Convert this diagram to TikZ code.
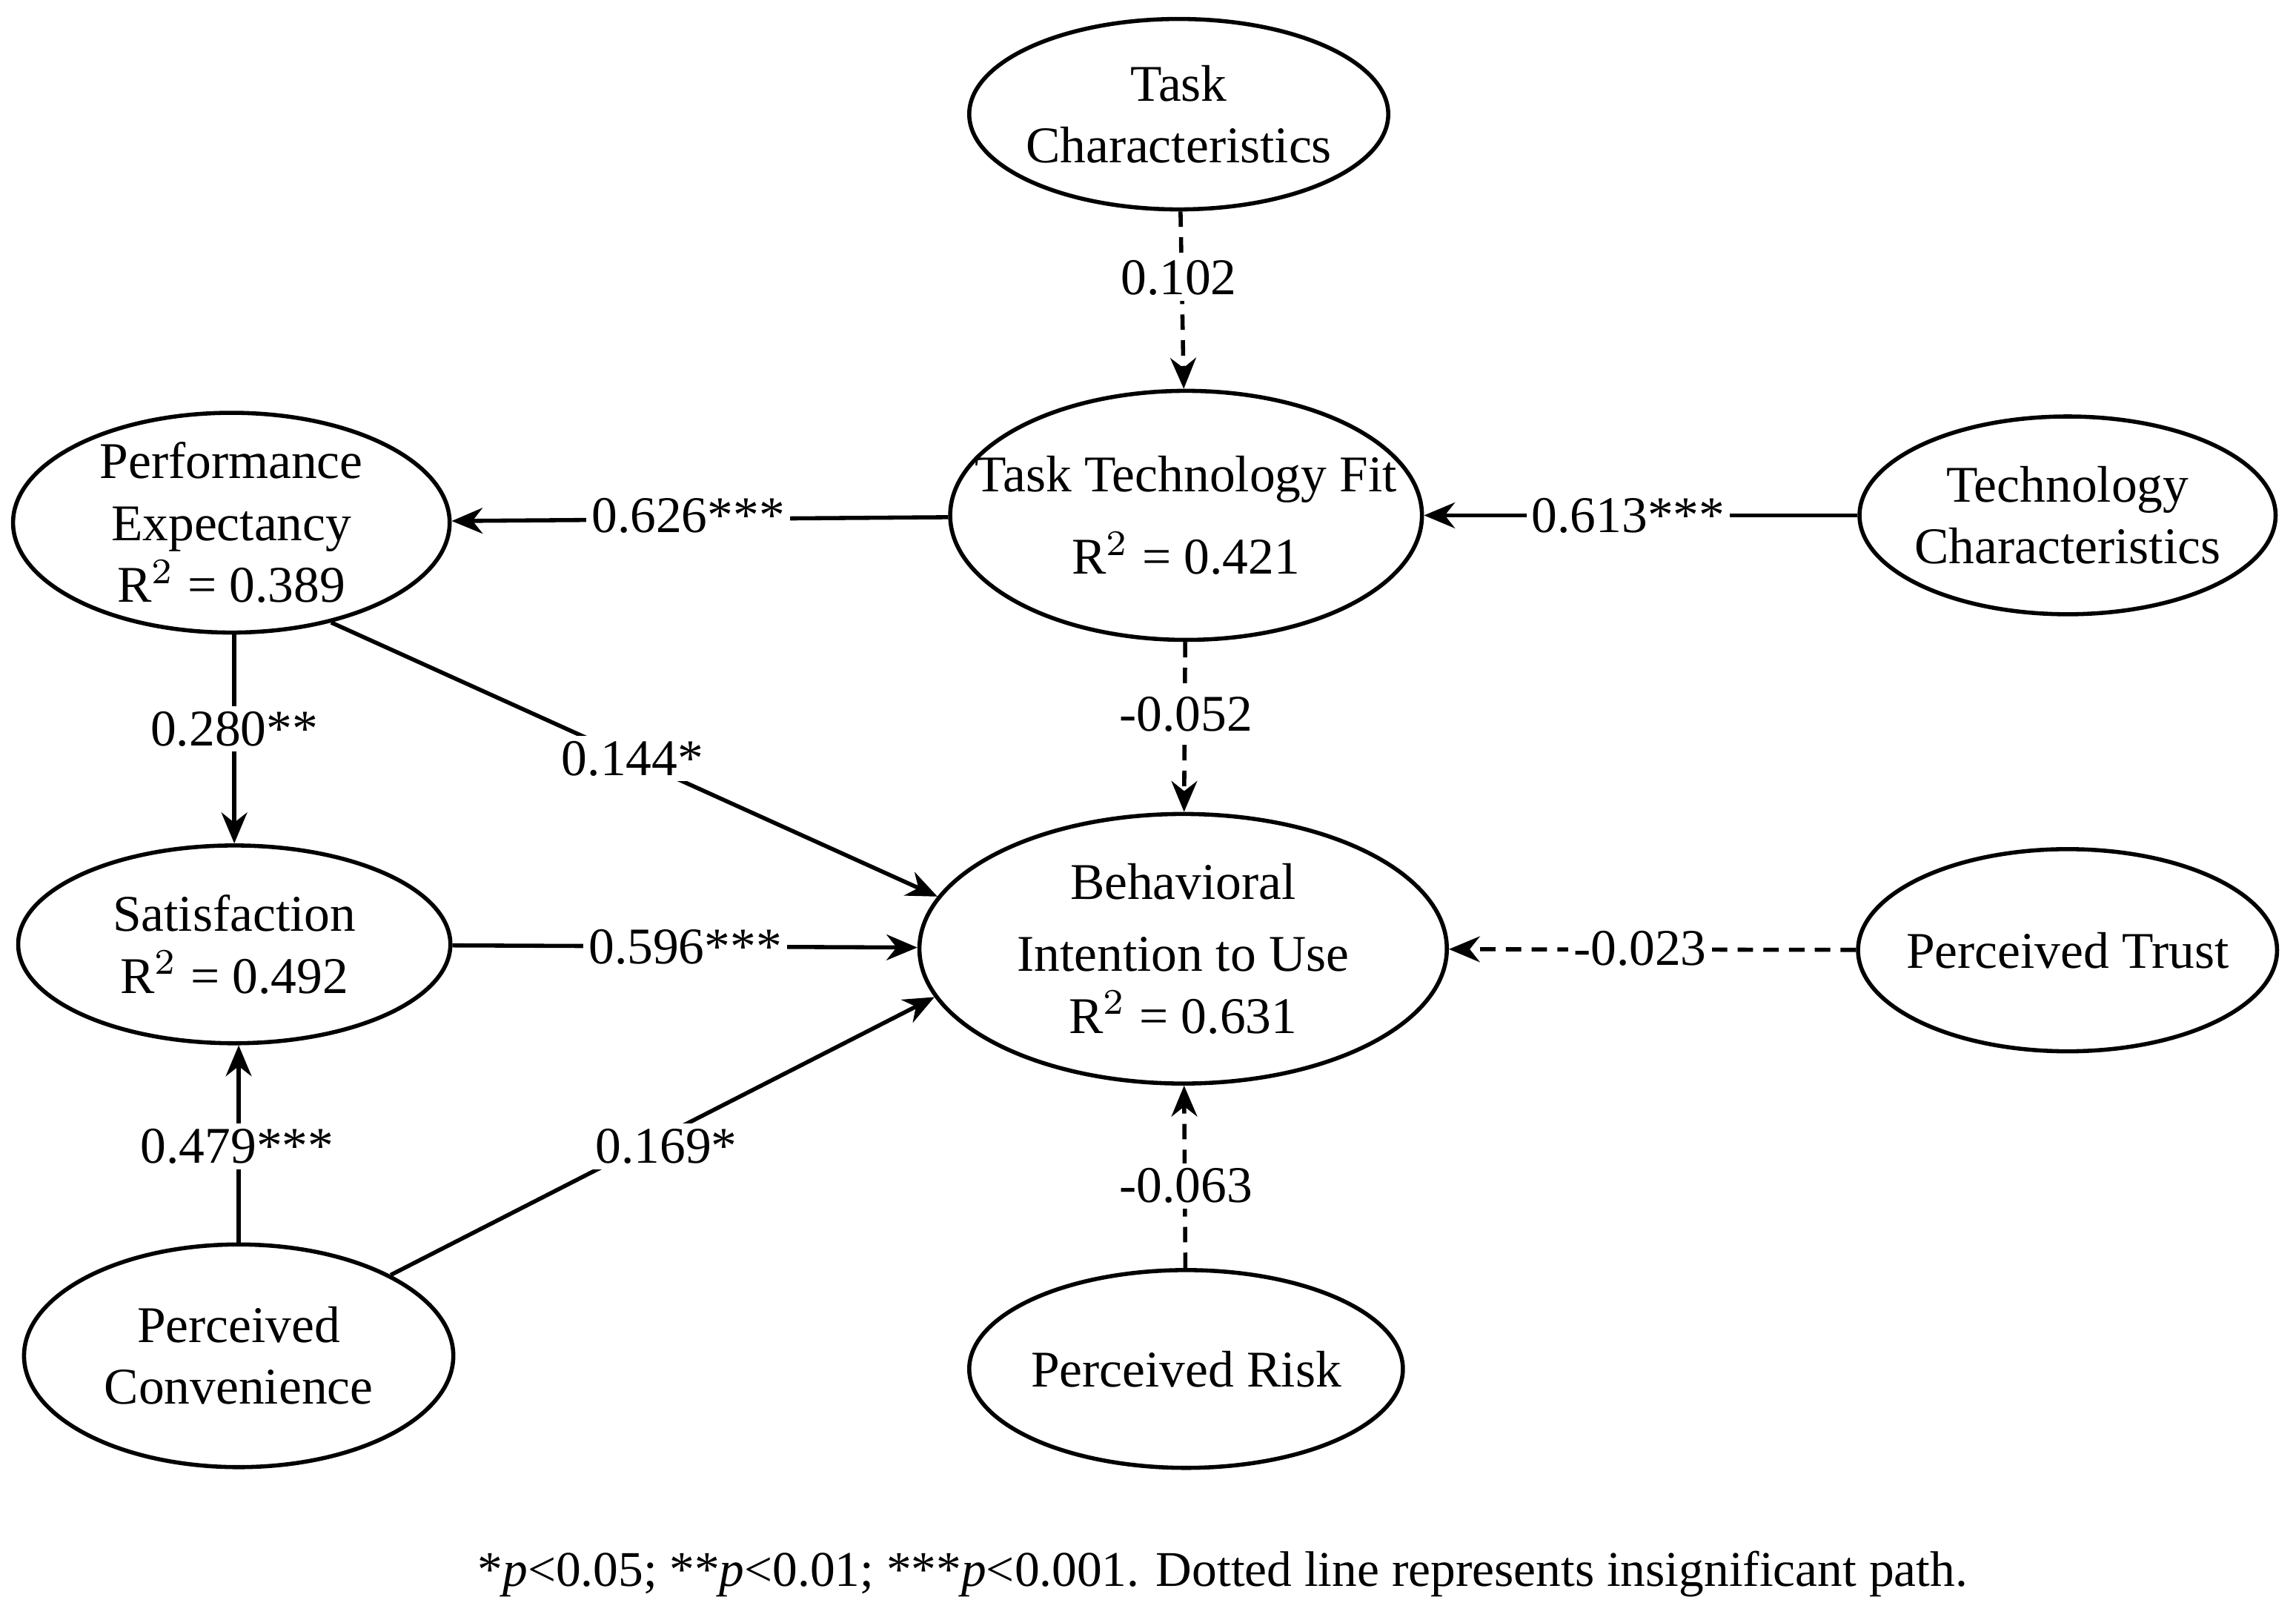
\documentclass[tikz,border=0pt]{standalone}
\usepackage{fontspec}
\setmainfont{Liberation Serif}
\usetikzlibrary{shapes.geometric,arrows.meta}
\begin{document}
\begin{tikzpicture}[x=0.01cm,y=-0.01cm,
  el/.style={draw,ellipse,line width=0.8pt,inner sep=0pt},
  tx/.style={align=center,inner sep=0pt,font=\fontsize{10}{12}\selectfont},
  ar/.style={-{Stealth[length=6pt,width=5pt]},line width=0.8pt},
  dar/.style={ar,densely dashed},
  lbl/.style={fill=white,inner sep=1pt,font=\fontsize{10}{12}\selectfont}]
\useasboundingbox (0,0) rectangle (1568,1104);
\node[el,minimum width=2.86cm,minimum height=1.30cm] (tc) at (805,78) {};
\node[el,minimum width=3.22cm,minimum height=1.70cm] (ttf) at (810,352) {};
\node[el,minimum width=2.84cm,minimum height=1.35cm] (tech) at (1412,352) {};
\node[el,minimum width=2.98cm,minimum height=1.50cm] (pe) at (158,357) {};
\node[el,minimum width=2.95cm,minimum height=1.35cm] (sat) at (160,645) {};
\node[el,minimum width=3.60cm,minimum height=1.84cm] (bi) at (808,648) {};
\node[el,minimum width=2.86cm,minimum height=1.38cm] (pt) at (1412,649) {};
\node[el,minimum width=2.93cm,minimum height=1.52cm] (pc) at (163,926) {};
\node[el,minimum width=2.96cm,minimum height=1.35cm] (pr) at (810,935) {};

\node[tx] (ttc) at (tc) {Task\\Characteristics};
\node[tx] (tttf) at (ttf) {Task Technology Fit\\[4pt]R$^2$ = 0.421};
\node[tx] (ttech) at (tech) {Technology\\Characteristics};
\node[tx] (tpe) at (pe) {Performance\\Expectancy\\R$^2$ = 0.389};
\node[tx] (tsat) at (sat) {Satisfaction\\R$^2$ = 0.492};
\node[tx] (tbi) at (bi) {Behavioral\\[2pt]Intention to Use\\R$^2$ = 0.631};
\node[tx] (tpt) at (pt) {Perceived Trust};
\node[tx] (tpc) at (pc) {Perceived\\Convenience};
\node[tx] (tpr) at (pr) {Perceived Risk};

\draw[dar] (tc) -- (ttf);
\draw[ar] (ttf) -- (pe);
\draw[ar] (tech) -- (ttf);
\draw[dar] (ttf) -- (bi);
\draw[ar] (pe.south) ++(2,0) coordinate (pes) -- (pes |- sat.north);
\draw[ar] (pe.-45) -- (bi.168);
\draw[ar] (sat) -- (bi);
\draw[ar] (pc.north) -- (pc.north |- sat.south);
\draw[ar] (pc.28) -- (bi.191);
\draw[dar] (pr) -- (bi);
\draw[dar] (pt) -- (bi);

\node[lbl] at (805,190) {0.102};
\node[lbl] at (470,352) {0.626***};
\node[lbl] at (1112,352) {0.613***};
\node[lbl] at (810,488) {-0.052};
\node[lbl] at (160,498) {0.280**};
\node[lbl] at (432,518) {0.144*};
\node[lbl] at (468,647) {0.596***};
\node[lbl] at (162,783) {0.479***};
\node[lbl] at (455,783) {0.169*};
\node[lbl] at (810,810) {-0.063};
\node[lbl] at (1120,648) {-0.023};
\node[font=\fontsize{9.7}{12}\selectfont] (fn) at (835,1075) {*\textit{p}<0.05; **\textit{p}<0.01; ***\textit{p}<0.001. Dotted line represents insignificant path.};
\end{tikzpicture}
\end{document}
